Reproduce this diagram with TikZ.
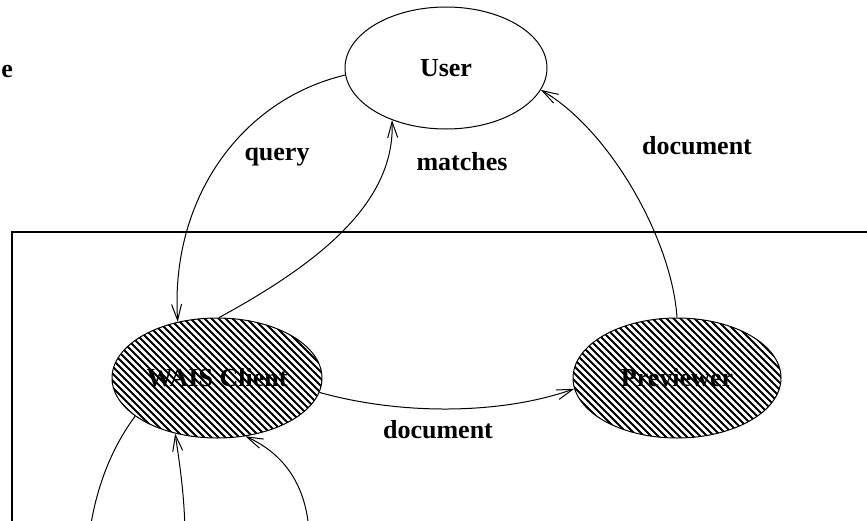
\documentclass[tikz,border=0pt]{standalone}
\usepackage{fontspec}
\setmainfont{Liberation Serif}
\usetikzlibrary{arrows.meta,patterns,shapes.geometric}

\pgfdeclarepatternformonly{dense hatch}{\pgfqpoint{-1pt}{-1pt}}{\pgfqpoint{4.5pt}{4.5pt}}{\pgfqpoint{3.5pt}{3.5pt}}{%
  \pgfsetlinewidth{0.9pt}%
  \pgfpathmoveto{\pgfqpoint{-0.1pt}{3.6pt}}%
  \pgfpathlineto{\pgfqpoint{3.6pt}{-0.1pt}}%
  \pgfusepath{stroke}}

\tikzset{
  proc/.style={ellipse, draw, line width=0.5pt, inner sep=0pt, font=\bfseries\fontsize{13}{15}\selectfont},
  busy/.style={proc, pattern=dense hatch},
  lbl/.style={font=\bfseries\fontsize{13}{15}\selectfont},
  flow/.style={-{Straight Barb[length=8pt,width=5pt]}, line width=0.5pt},
}

\begin{document}
\begin{tikzpicture}[x=0.5pt,y=-0.5pt]
\useasboundingbox (0,0) rectangle (867,520);
\clip (0,0) rectangle (867,520);

% system box, open to the right and below
\draw[line width=0.6pt] (12,540) -- (12,232) -- (900,232);

\node[proc, minimum width=101pt, minimum height=61pt] (user) at (446,68) {User};
\node[busy, minimum width=105pt, minimum height=60pt] (wais) at (217,378) {WAIS Client};
\node[busy, minimum width=104pt, minimum height=60pt] (prev) at (677,378) {Previewer};

\node[lbl, anchor=west, inner sep=0pt] (cut) at (1,72) {e};

\node[lbl] (query) at (277,157) {query};
\node[lbl] (matches) at (462,162) {matches};
\node[lbl] (doctop) at (697,146) {document};
\node[lbl] (docmid) at (438,430) {document};

\draw[flow] (user.184) .. controls (240,100) and (170,200) .. (wais.125);
\draw[flow] (wais.88) .. controls (325,260) and (395,200) .. (user.224);
\draw[flow] (prev.north) .. controls (672,240) and (610,130) .. (user.-13);
\draw[flow] (wais.-8) .. controls (400,415) and (500,415) .. (prev.186);

% links leaving the picture below
\coordinate (outL) at (90,530);
\coordinate (outM) at (185,530);
\coordinate (outR) at (309,530);
\draw[line width=0.5pt] (wais.205) .. controls (110,450) and (96,490) .. (outL);
\draw[flow] (outM) .. controls (184,490) and (179,460) .. (wais.233);
\draw[flow] (outR) .. controls (305,480) and (280,452) .. (wais.-64);

\end{tikzpicture}
\end{document}
